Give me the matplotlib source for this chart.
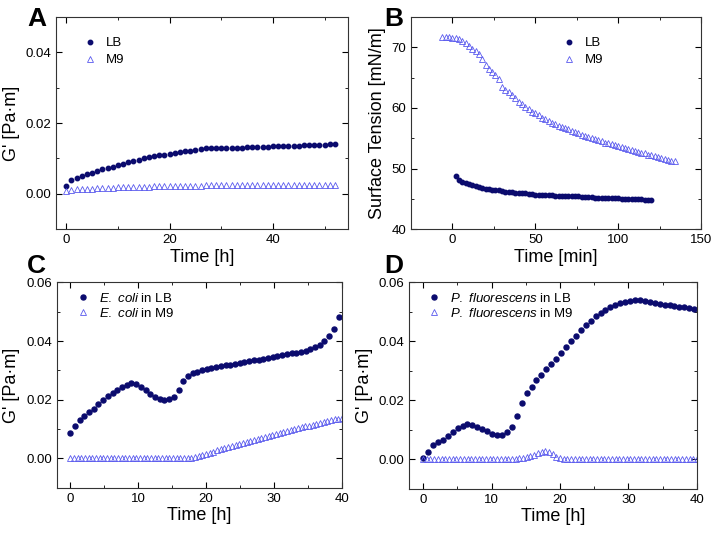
import matplotlib
matplotlib.use("Agg")
import matplotlib.pyplot as plt
import numpy as np
from matplotlib.ticker import MultipleLocator, FormatStrFormatter

plt.rcParams['font.family'] = ['Liberation Sans', 'DejaVu Sans']
plt.rcParams['mathtext.fontset'] = 'custom'
plt.rcParams['mathtext.rm'] = 'Liberation Sans'
plt.rcParams['mathtext.it'] = 'Liberation Sans:italic'

# panel A: G' vs time [h]
a_time = np.arange(0, 53)
a_lb = [0.0021, 0.0038, 0.0046, 0.0050, 0.0055, 0.0060, 0.0064, 0.0069, 0.0073, 0.0077,
        0.0081, 0.0085, 0.0089, 0.0093, 0.0096, 0.0100, 0.0103, 0.0106, 0.0109, 0.0111,
        0.0113, 0.0116, 0.0118, 0.0120, 0.0122, 0.0125, 0.0127, 0.0129, 0.0130, 0.0130,
        0.0130, 0.0130, 0.0130, 0.0131, 0.0131, 0.0132, 0.0132, 0.0133, 0.0133, 0.0133,
        0.0134, 0.0134, 0.0135, 0.0135, 0.0136, 0.0136, 0.0137, 0.0137, 0.0138, 0.0138,
        0.0139, 0.0140, 0.0141]
a_m9 = [0.0009, 0.0011, 0.0013, 0.0014, 0.0015, 0.0015, 0.0016, 0.0016, 0.0017, 0.0017,
        0.0018, 0.0018, 0.0019, 0.0019, 0.0019, 0.0020, 0.0020, 0.0021, 0.0021, 0.0021,
        0.0022, 0.0022, 0.0022, 0.0023, 0.0023, 0.0023, 0.0023, 0.0024, 0.0024, 0.0024,
        0.0024, 0.0024, 0.0025, 0.0025, 0.0025, 0.0025, 0.0025, 0.0025, 0.0025, 0.0025,
        0.0025, 0.0025, 0.0025, 0.0026, 0.0026, 0.0026, 0.0026, 0.0026, 0.0026, 0.0026,
        0.0026, 0.0026, 0.0026]

# panel B: surface tension vs time [min]
b_time_lb = np.arange(2, 121, 2)
b_lb = [48.8, 48.1, 47.8, 47.6, 47.4, 47.3, 47.1, 47.0, 46.8, 46.7,
        46.6, 46.5, 46.5, 46.4, 46.3, 46.2, 46.2, 46.1, 46.0, 46.0,
        45.9, 45.9, 45.8, 45.8, 45.7, 45.7, 45.7, 45.6, 45.6, 45.6,
        45.5, 45.5, 45.5, 45.5, 45.4, 45.4, 45.4, 45.4, 45.3, 45.3,
        45.3, 45.3, 45.2, 45.2, 45.2, 45.2, 45.2, 45.1, 45.1, 45.1,
        45.0, 45.0, 45.0, 45.0, 44.9, 44.9, 44.9, 44.8, 44.8, 44.8]
b_time_m9 = np.arange(-6, 135, 2)
b_m9 = [71.7, 71.7, 71.7, 71.6, 71.6, 71.4, 71.1, 70.8, 70.3, 69.8,
        69.4, 68.9, 68.0, 67.1, 66.4, 65.9, 65.4, 64.8, 63.4, 63.0,
        62.6, 62.1, 61.6, 61.0, 60.6, 60.2, 59.8, 59.4, 59.1, 58.8,
        58.4, 58.1, 57.8, 57.6, 57.3, 57.1, 56.9, 56.7, 56.5, 56.2,
        56.0, 55.8, 55.6, 55.4, 55.2, 55.0, 54.8, 54.7, 54.5, 54.3,
        54.2, 54.0, 53.9, 53.7, 53.6, 53.4, 53.2, 53.1, 52.9, 52.7,
        52.6, 52.5, 52.3, 52.2, 52.1, 51.9, 51.8, 51.6, 51.4, 51.2,
        51.3]

# panel C: E. coli
c_time_lb = np.linspace(0, 39.5, 58)
c_lb = [0.0085, 0.0110, 0.0130, 0.0145, 0.0158, 0.0170, 0.0185, 0.0200, 0.0214, 0.0224,
        0.0234, 0.0243, 0.0251, 0.0256, 0.0254, 0.0245, 0.0232, 0.0220, 0.0209, 0.0202,
        0.0200, 0.0201, 0.0210, 0.0232, 0.0263, 0.0281, 0.0290, 0.0296, 0.0301, 0.0305,
        0.0308, 0.0311, 0.0314, 0.0317, 0.0319, 0.0322, 0.0326, 0.0329, 0.0331, 0.0334,
        0.0337, 0.0340, 0.0343, 0.0346, 0.0349, 0.0352, 0.0355, 0.0358, 0.0361, 0.0364,
        0.0368, 0.0373, 0.0379, 0.0388, 0.0399, 0.0418, 0.0443, 0.0483]
c_time_m9 = np.linspace(0, 40, 75)
c_m9 = [0.0] * 33 + [
        0.0002, 0.0005, 0.0008, 0.0012, 0.0016, 0.0020, 0.0023, 0.0027, 0.0031, 0.0034,
        0.0038, 0.0041, 0.0045, 0.0048, 0.0052, 0.0056, 0.0059, 0.0063, 0.0066, 0.0070,
        0.0073, 0.0077, 0.0081, 0.0084, 0.0088, 0.0091, 0.0094, 0.0097, 0.0100, 0.0103,
        0.0106, 0.0109, 0.0112, 0.0115, 0.0118, 0.0121, 0.0124, 0.0127, 0.0130, 0.0133,
        0.0136, 0.0139]

# panel D: P. fluorescens
d_time_lb = np.arange(56) * 0.72
d_lb = [0.0005, 0.0026, 0.0048, 0.0060, 0.0067, 0.0078, 0.0094, 0.0106, 0.0114, 0.0121,
        0.0118, 0.0111, 0.0103, 0.0095, 0.0087, 0.0084, 0.0084, 0.0091, 0.0110, 0.0148,
        0.0192, 0.0224, 0.0247, 0.0269, 0.0286, 0.0305, 0.0323, 0.0342, 0.0361, 0.0380,
        0.0400, 0.0420, 0.0438, 0.0457, 0.0471, 0.0485, 0.0497, 0.0508, 0.0517, 0.0524,
        0.0529, 0.0533, 0.0536, 0.0539, 0.0539, 0.0537, 0.0534, 0.0531, 0.0528, 0.0525,
        0.0523, 0.0521, 0.0518, 0.0516, 0.0514, 0.0510]
d_time_m9 = np.linspace(0, 40, 75)
d_m9 = [0.0] * 25 + [
        0.0001, 0.0003, 0.0005, 0.0008, 0.0012, 0.0016, 0.0021, 0.0026, 0.0029, 0.0026,
        0.0017, 0.0008, 0.0003, 0.0001] + [0.0] * 36

LB_COLOR = '#0b0b6e'
M9_COLOR = '#5a5aee'

fig = plt.figure(figsize=(7.17, 5.33), dpi=100)
axA = fig.add_axes([0.078, 0.570, 0.407, 0.398])
axB = fig.add_axes([0.573, 0.570, 0.405, 0.398])
axC = fig.add_axes([0.079, 0.085, 0.398, 0.385])
axD = fig.add_axes([0.571, 0.083, 0.401, 0.387])


def draw(ax, t1, y1, t2, y2, lab1, lab2, ms):
    ax.plot(t1, y1, 'o', color=LB_COLOR, ms=ms, mec=LB_COLOR, label=lab1)
    ax.plot(t2, y2, '^', color=M9_COLOR, ms=ms + 0.6, mfc='none', mew=0.6, label=lab2)
    ax.tick_params(which='both', direction='in', top=True, right=True, labelsize=9.5)
    ax.tick_params(which='major', length=4)
    ax.tick_params(which='minor', length=2)
    for s in ax.spines.values():
        s.set_linewidth(0.8)
        s.set_color('#333333')


draw(axA, a_time, a_lb, a_time, a_m9, 'LB', 'M9', 3.2)
axA.set_xlim(-2, 54.5)
axA.set_ylim(-0.01, 0.05)
axA.xaxis.set_major_locator(MultipleLocator(20))
axA.xaxis.set_minor_locator(MultipleLocator(10))
axA.yaxis.set_major_locator(MultipleLocator(0.02))
axA.yaxis.set_minor_locator(MultipleLocator(0.01))
axA.yaxis.set_major_formatter(FormatStrFormatter('%.2f'))
axA.set_xlabel('Time [h]', fontsize=13, labelpad=2)
axA.set_ylabel("G' [Pa·m]", fontsize=13)
axA.legend(loc='upper left', bbox_to_anchor=(0.07, 0.93), frameon=False, numpoints=1,
           fontsize=9.5, handlelength=1.2, handletextpad=0.6, labelspacing=0.35,
           borderaxespad=0)

draw(axB, b_time_lb, b_lb, b_time_m9, b_m9, 'LB', 'M9', 3.2)
axB.set_xlim(-25, 150)
axB.set_ylim(40, 75)
axB.xaxis.set_major_locator(MultipleLocator(50))
axB.xaxis.set_minor_locator(MultipleLocator(25))
axB.yaxis.set_major_locator(MultipleLocator(10))
axB.yaxis.set_minor_locator(MultipleLocator(5))
axB.set_xlabel('Time [min]', fontsize=13, labelpad=2)
axB.set_ylabel('Surface Tension [mN/m]', fontsize=13)
axB.legend(loc='upper left', bbox_to_anchor=(0.50, 0.93), frameon=False, numpoints=1,
           fontsize=9.5, handlelength=1.2, handletextpad=0.6, labelspacing=0.35,
           borderaxespad=0)

draw(axC, c_time_lb, c_lb, c_time_m9, c_m9,
     r'$\it{E.\ coli}$ in LB', r'$\it{E.\ coli}$ in M9', 3.6)
axC.set_xlim(-2, 40)
axC.set_ylim(-0.01, 0.06)
axC.xaxis.set_major_locator(MultipleLocator(10))
axC.xaxis.set_minor_locator(MultipleLocator(5))
axC.yaxis.set_major_locator(MultipleLocator(0.02))
axC.yaxis.set_minor_locator(MultipleLocator(0.01))
axC.yaxis.set_major_formatter(FormatStrFormatter('%.2f'))
axC.set_xlabel('Time [h]', fontsize=13, labelpad=2)
axC.set_ylabel("G' [Pa·m]", fontsize=13)
axC.legend(loc='upper left', bbox_to_anchor=(0.045, 0.98), frameon=False, numpoints=1,
           fontsize=9.5, handlelength=1.2, handletextpad=0.6, labelspacing=0.15,
           borderaxespad=0)

draw(axD, d_time_lb, d_lb, d_time_m9, d_m9,
     r'$\it{P.\ fluorescens}$ in LB', r'$\it{P.\ fluorescens}$ in M9', 3.6)
axD.set_xlim(-2, 40)
axD.set_ylim(-0.01, 0.06)
axD.xaxis.set_major_locator(MultipleLocator(10))
axD.xaxis.set_minor_locator(MultipleLocator(5))
axD.yaxis.set_major_locator(MultipleLocator(0.02))
axD.yaxis.set_minor_locator(MultipleLocator(0.01))
axD.yaxis.set_major_formatter(FormatStrFormatter('%.2f'))
axD.set_xlabel('Time [h]', fontsize=13, labelpad=2)
axD.set_ylabel("G' [Pa·m]", fontsize=13)
axD.legend(loc='upper left', bbox_to_anchor=(0.04, 0.98), frameon=False, numpoints=1,
           fontsize=9.5, handlelength=1.2, handletextpad=0.6, labelspacing=0.15,
           borderaxespad=0)

# panel letters
for letter, x, y in [('A', 27, 26), ('B', 384, 26), ('C', 27, 273), ('D', 384, 273)]:
    fig.text(x / 717, 1 - y / 533, letter, fontsize=19, fontweight='bold',
             ha='left', va='baseline')

fig.savefig('out.png', dpi=100)
